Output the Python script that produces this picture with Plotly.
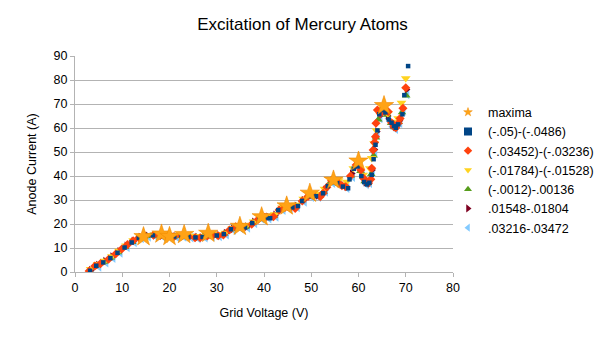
import plotly.graph_objects as go

# ---------------- data ----------------
maxima_x = [14.5, 18.3, 20.0, 23.1, 28.2, 34.9, 39.5, 44.8, 49.7, 54.7, 60.0, 65.4]
maxima_y = [14.7, 15.8, 14.8, 15.6, 16.1, 19.0, 23.0, 27.5, 32.8, 38.3, 46.2, 69.3]

s1_pts = [(3.2,0.5),(4.5,2.6),(6.0,4.0),(7.5,5.8),(9.0,8.0),(10.5,10.2),(12.0,12.3),(13.5,14.2),(15.0,15.1),(16.5,15.3),
          (18.0,15.0),(19.5,15.1),(21.0,14.8),(22.5,15.0),(24.0,14.7),(25.5,14.4),(27.0,14.6),(28.5,15.2),(30.0,15.2),(31.5,15.8),
          (33.0,17.8),(34.5,18.7),(36.0,18.6),(37.5,20.4),(39.0,22.3),(40.5,22.6),(41.3,22.4),(43.0,25.8),(44.5,27.0),(46.0,26.9),
          (47.2,27.5),(48.1,29.6),(49.5,31.6),(51.0,31.6),(52.5,32.8),(53.5,35.8),(54.5,37.5),(55.5,37.0),(56.7,35.6),(57.8,34.9),
          (58.1,38.6),(59.0,43.0),(59.8,44.0),(60.6,40.0),(61.2,37.5),(61.8,36.5),(62.3,37.2),(62.8,40.5),(63.2,47.0),(63.6,53.0),
          (64.0,59.0),(64.4,65.7),(65.0,67.5),(65.7,66.5),(66.4,63.5),(67.0,62.2),(67.5,60.8),(67.9,60.1),(68.4,61.5),(69.3,65.7),
          (69.7,73.7),(70.5,85.8)]

s2_pts = [(3.0,0.4),(4.2,2.5),(5.4,3.5),(7.1,5.3),(8.6,7.5),(9.9,9.6),(11.1,11.4),(12.3,13.0),(13.5,14.3),(14.8,15.0),
          (16.6,15.3),(18.0,15.2),(19.5,15.0),(20.8,14.7),(22.5,15.0),(24.0,14.8),(25.4,14.3),(26.5,14.3),(28.0,15.0),(29.2,15.3),
          (30.3,15.1),(31.4,15.4),(32.7,17.5),(34.0,18.8),(35.5,18.5),(37.4,19.9),(38.8,22.0),(40.2,22.8),(42.0,23.0),(43.2,25.8),
          (44.5,27.0),(45.5,26.8),(46.6,26.5),(48.1,29.6),(49.3,31.5),(50.5,31.8),(51.9,31.4),(52.5,32.8),(53.3,35.3),(54.3,38.0),
          (55.5,37.5),(56.5,36.0),(57.3,35.5),(58.3,40.0),(59.5,44.6),(60.5,42.5),(61.1,39.0),(61.6,37.6),(62.1,37.0),(62.6,38.6),
          (62.8,43.2),(63.1,50.8),(63.4,54.0),(63.6,56.4),(63.7,62.0),(64.0,67.5),(64.6,66.0),(65.5,67.0),(66.3,66.8),(67.0,62.2),
          (67.5,60.5),(67.9,60.1),(68.4,62.0),(68.8,64.0),(69.4,68.2),(70.0,76.8)]

s3_pts = [(3.3,1.2),(4.8,3.3),(6.3,4.6),(7.8,6.5),(9.3,8.8),(10.8,11.0),(12.3,13.2),(13.8,14.6),(15.3,15.4),(16.8,15.7),
          (18.3,15.6),(19.8,15.4),(21.3,15.2),(22.8,15.4),(24.3,15.1),(25.8,14.9),(27.3,15.1),(28.8,15.7),(30.3,15.8),(31.8,16.3),
          (33.3,18.2),(34.8,19.3),(36.3,19.4),(37.8,21.0),(39.3,23.0),(40.8,23.4),(42.3,24.0),(43.8,26.8),(45.3,27.8),(46.8,28.0),
          (48.3,30.5),(49.8,32.6),(51.3,32.6),(52.8,34.6),(54.3,38.6),(55.8,38.2),(57.5,37.6),(58.9,43.2),(60.0,45.0),(61.0,40.5),
          (61.7,38.5),(62.4,43.2),(62.8,47.4),(63.3,53.6),(63.8,59.0),(64.3,66.5),(65.2,68.0),(66.2,66.0),(67.0,62.5),(67.7,61.5),
          (68.4,64.0),(69.1,70.5),(70.0,80.7)]

s4_pts = [(3.1,0.6),(4.6,2.8),(6.1,4.2),(7.6,6.0),(9.1,8.2),(10.6,10.4),(12.1,12.5),(13.6,14.3),(15.1,15.0),(16.6,15.2),
          (18.1,15.1),(19.6,15.0),(21.1,14.9),(22.6,15.1),(24.1,14.8),(25.6,14.5),(27.1,14.8),(28.6,15.3),(30.1,15.3),(31.6,16.0),
          (33.1,17.9),(34.6,18.8),(36.1,18.8),(37.6,20.6),(39.1,22.4),(40.6,22.8),(42.1,23.4),(43.6,26.2),(45.1,27.2),(46.6,27.3),
          (48.1,29.8),(49.6,31.8),(51.1,31.8),(52.6,33.5),(54.1,37.6),(55.6,37.2),(57.1,35.8),(58.4,40.2),(59.5,44.2),(60.4,42.0),
          (61.3,37.8),(62.0,37.0),(62.7,40.8),(63.2,48.5),(63.7,56.0),(64.2,63.5),(65.0,67.0),(66.0,65.5),(66.9,62.0),(67.6,60.3),
          (68.5,62.5),(69.2,66.5),(70.1,73.5)]

s5_pts = [(3.4,0.8),(4.9,2.9),(6.4,4.5),(7.9,6.4),(9.4,8.6),(10.9,10.9),(12.4,12.9),(13.9,14.5),(15.4,15.1),(16.9,15.3),
          (18.4,15.2),(19.9,15.0),(21.4,14.8),(22.9,15.0),(24.4,14.7),(25.9,14.5),(27.4,14.8),(28.9,15.4),(30.4,15.3),(31.9,16.2),
          (33.4,18.0),(34.9,18.8),(36.4,18.9),(37.9,20.9),(39.4,22.6),(40.9,23.0),(42.4,23.8),(43.9,26.5),(45.4,27.2),(46.9,27.6),
          (48.4,30.0),(49.9,32.0),(51.4,31.9),(52.9,34.2),(54.4,38.0),(55.9,37.0),(57.4,35.7),(58.6,41.0),(59.7,44.5),(60.7,41.0),
          (61.5,37.4),(62.2,37.5),(62.9,42.5),(63.4,51.0),(63.9,58.5),(64.5,65.0),(65.3,67.2),(66.2,65.0),(67.1,61.5),(67.8,60.4),
          (68.7,63.0),(69.4,68.0),(70.2,76.0)]

s6_pts = [(3.6,0.2),(5.1,2.2),(6.6,3.9),(8.1,5.8),(9.6,8.0),(11.1,10.3),(12.6,12.4),(14.1,14.0),(15.6,14.7),(17.1,14.9),
          (18.6,14.8),(20.1,14.6),(21.6,14.4),(23.1,14.6),(24.6,14.3),(26.1,14.0),(27.6,14.3),(29.1,14.9),(30.6,14.9),(32.1,15.6),
          (33.6,17.5),(35.1,18.3),(36.6,18.4),(38.1,20.3),(39.6,22.1),(41.1,22.3),(42.6,23.0),(44.1,25.8),(45.6,26.6),(47.1,26.9),
          (48.6,29.2),(50.1,31.2),(51.6,31.2),(53.1,33.4),(54.6,37.0),(56.1,36.4),(57.6,35.0),(58.8,39.5),(59.9,43.5),(60.9,40.0),
          (61.7,36.5),(62.4,37.0),(63.0,41.5),(63.5,49.5),(64.0,57.5),(64.6,64.0),(65.5,66.5),(66.4,64.0),(67.2,60.5),(67.9,59.5),
          (68.8,62.0),(69.5,67.0),(70.3,74.0)]

series_names = ["(-.05)-(-.0486)", "(-.03452)-(-.03236)", "(-.01784)-(-.01528)",
                "(-.0012)-.00136", ".01548-.01804", ".03216-.03472"]
series_pts = [s1_pts, s2_pts, s3_pts, s4_pts, s5_pts, s6_pts]

x_ticks = [0, 10, 20, 30, 40, 50, 60, 70, 80]
y_ticks = [0, 10, 20, 30, 40, 50, 60, 70, 80, 90]

# ---------------- styles ----------------
symbols = ["square", "diamond", "triangle-down", "triangle-up", "triangle-right", "triangle-left"]
colors = ["#004586", "#ff420e", "#ffd320", "#579d1c", "#7e0021", "#83caff"]
sizes = [4.5, 7, 8.5, 7.5, 7.5, 8.5]
legend_sizes = [8, 6.5, 7, 7, 7, 7]
star_color = "#ffa316"

fig = go.Figure()

# plot traces (drawn last series first so series 1 and maxima are on top)
for i in reversed(range(6)):
    xs = [p[0] for p in series_pts[i]]
    ys = [p[1] for p in series_pts[i]]
    fig.add_trace(go.Scatter(x=xs, y=ys, mode="markers", showlegend=False,
                             marker=dict(symbol=symbols[i], color=colors[i], size=sizes[i],
                                         line=dict(width=0))))
fig.add_trace(go.Scatter(x=maxima_x, y=maxima_y, mode="markers", showlegend=False,
                         marker=dict(symbol="star", color=star_color, size=14.5,
                                     line=dict(width=0.6, color="#f08a00"))))

# legend entries (small markers as in the original legend)
fig.add_trace(go.Scatter(x=[None], y=[None], mode="markers", name="maxima", legendgroup="g0",
                         marker=dict(symbol="star", color=star_color, size=6.5,
                                     line=dict(width=0.5, color="#f08a00"))))
for i in range(6):
    fig.add_trace(go.Scatter(x=[None], y=[None], mode="markers", name=series_names[i],
                             legendgroup="g%d" % (i + 1),
                             marker=dict(symbol=symbols[i], color=colors[i], size=legend_sizes[i],
                                         line=dict(width=0))))

font_family = "Liberation Sans, Arial, sans-serif"
grid_col = "#b3b3b3"

fig.update_layout(
    width=605, height=340,
    margin=dict(l=75, r=152, t=56, b=68, autoexpand=False),
    paper_bgcolor="white", plot_bgcolor="white",
    font=dict(family=font_family, size=12.5, color="#000000"),
    title=dict(text="Excitation of Mercury Atoms", x=0.5, xref="container", xanchor="center",
               y=1 - 24 / 340, yref="container", yanchor="middle",
               font=dict(size=17, color="#000000", family=font_family)),
    showlegend=True,
    legend=dict(x=(448 - 75) / 378, xanchor="left", y=(272 - 170) / 216, yanchor="middle",
                xref="paper", yref="paper", bgcolor="rgba(0,0,0,0)",
                font=dict(size=12.5, color="#000000", family=font_family),
                tracegroupgap=2, traceorder="normal", itemsizing="trace"),
    xaxis=dict(range=[0, 80], tickvals=x_ticks, showgrid=False, zeroline=False,
               showline=True, linecolor=grid_col, linewidth=1,
               ticks="outside", ticklen=4, tickcolor=grid_col,
               title=dict(text="Grid Voltage (V)", font=dict(size=12.5), standoff=14)),
    yaxis=dict(range=[0, 90], tickvals=y_ticks, showgrid=True, gridcolor=grid_col, gridwidth=1,
               zeroline=False, showline=True, linecolor=grid_col, linewidth=1,
               ticks="outside", ticklen=4, tickcolor=grid_col,
               title=dict(text="Anode Current (A)", font=dict(size=12.5), standoff=14)),
)

fig.write_html("out.html")
